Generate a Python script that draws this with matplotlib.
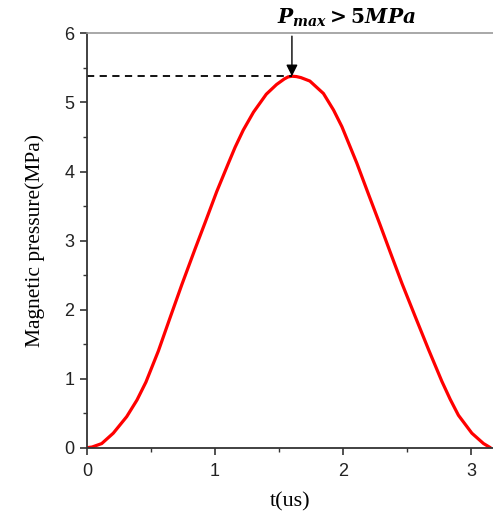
import matplotlib
matplotlib.use("Agg")
import matplotlib.pyplot as plt
from matplotlib.ticker import MultipleLocator

# values
t_us = [0.0, 0.04, 0.115, 0.205, 0.31, 0.39, 0.46, 0.557, 0.648, 0.74, 0.844, 0.922,
        1.013, 1.104, 1.156, 1.22, 1.30, 1.40, 1.48, 1.54, 1.57, 1.60, 1.635, 1.67,
        1.74, 1.846, 1.925, 1.99, 2.107, 2.20, 2.29, 2.37, 2.459, 2.5625, 2.667,
        2.771, 2.836, 2.90, 3.005, 3.096, 3.15]
pressure = [0.0, 0.01, 0.06, 0.21, 0.45, 0.69, 0.95, 1.40, 1.88, 2.36, 2.88, 3.26,
            3.71, 4.12, 4.35, 4.60, 4.86, 5.12, 5.26, 5.34, 5.37, 5.38, 5.375, 5.36,
            5.31, 5.13, 4.89, 4.65, 4.12, 3.66, 3.22, 2.82, 2.38, 1.90, 1.42,
            0.96, 0.70, 0.47, 0.21, 0.06, 0.0]
t_peak = 1.60
p_peak = 5.38

plt.rcParams['mathtext.fontset'] = 'custom'
plt.rcParams['mathtext.rm'] = 'DejaVu Serif:bold'
plt.rcParams['mathtext.it'] = 'DejaVu Serif:bold:italic'

fig = plt.figure(figsize=(4.93, 5.14), dpi=100)
ax = fig.add_axes([0.1765, 0.129, 0.8235, 0.806])

ax.plot(t_us, pressure, color="red", lw=2.3, solid_capstyle="round",
        solid_joinstyle="round")
ax.plot([0, t_peak], [p_peak, p_peak], color="black", ls=(0, (4, 3)), lw=1.3)
ax.annotate("", xy=(t_peak, p_peak), xytext=(t_peak, 5.96),
            arrowprops=dict(arrowstyle="-|>", color="black", lw=1.0,
                            mutation_scale=17, shrinkA=0, shrinkB=0))
ax.text(1.48, 6.22, r"$P_{max} > 5MPa$", fontsize=14.5, ha="left", va="center",
        clip_on=False)

ax.set_xlim(0, 3.17)
ax.set_ylim(0, 6)
ax.xaxis.set_major_locator(MultipleLocator(1))
ax.xaxis.set_minor_locator(MultipleLocator(0.5))
ax.yaxis.set_major_locator(MultipleLocator(1))
ax.yaxis.set_minor_locator(MultipleLocator(0.5))
ax.tick_params(which="major", direction="out", length=5, width=1.2, color="#333333",
               labelsize=13, pad=4)
ax.tick_params(axis="x", which="major", pad=6)
ax.tick_params(which="minor", direction="out", length=3, width=1.0, color="#333333")
for lab in ax.get_xticklabels() + ax.get_yticklabels():
    lab.set_fontfamily("Liberation Sans")
    lab.set_color("#222222")

ax.spines["left"].set_color("#333333")
ax.spines["bottom"].set_color("#333333")
ax.spines["left"].set_linewidth(1.3)
ax.spines["bottom"].set_linewidth(1.3)
ax.spines["top"].set_color("#999999")
ax.spines["top"].set_linewidth(1.2)
ax.spines["right"].set_visible(False)

ax.set_xlabel("t(us)", fontsize=16, fontfamily="Liberation Serif", labelpad=9)
ax.set_ylabel("Magnetic pressure(MPa)", fontsize=15.5, fontfamily="Liberation Serif",
              labelpad=14)

fig.savefig("out.png", dpi=100)
